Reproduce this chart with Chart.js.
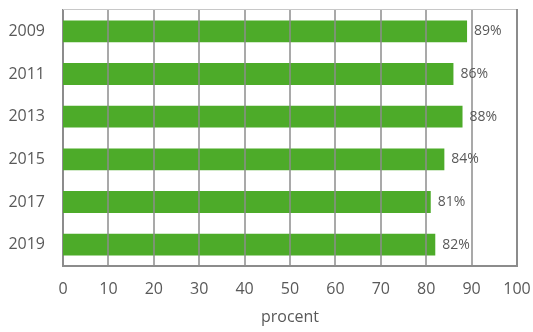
<!DOCTYPE html>
<html>
<head>
<meta charset="utf-8">
<script src="https://cdn.jsdelivr.net/npm/chart.js@4"></script>
<style>
  html, body { margin: 0; padding: 0; background: #fff; }
  #wrap { width: 533px; height: 332px; }
</style>
</head>
<body>
<div id="wrap"><canvas id="chart"></canvas></div>
<script>
const years = ['2009', '2011', '2013', '2015', '2017', '2019'];
const values = [89, 86, 88, 84, 81, 82];
const xTicks = [0, 10, 20, 30, 40, 50, 60, 70, 80, 90, 100];

// light top edge, right edge, gridlines over bars and the % labels
const framePlugin = {
  id: 'frame',
  afterDatasetsDraw(chart) {
    const { ctx, chartArea: a, scales: { x } } = chart;
    ctx.save();
    ctx.strokeStyle = '#8c8c8c';
    ctx.lineWidth = 1.5;
    xTicks.slice(1, -1).forEach(v => {
      const px = Math.round(x.getPixelForValue(v));
      ctx.beginPath();
      ctx.moveTo(px, a.top);
      ctx.lineTo(px, a.bottom);
      ctx.stroke();
    });
    ctx.strokeStyle = '#c8c8c8';
    ctx.lineWidth = 1;
    ctx.beginPath();
    ctx.moveTo(a.left, a.top - 0.5);
    ctx.lineTo(a.right, a.top - 0.5);
    ctx.stroke();
    ctx.strokeStyle = '#8c8c8c';
    ctx.lineWidth = 2;
    ctx.beginPath();
    ctx.moveTo(a.right, a.top - 1);
    ctx.lineTo(a.right, a.bottom);
    ctx.stroke();

    const meta = chart.getDatasetMeta(0);
    ctx.fillStyle = '#595959';
    ctx.font = '14px "Open Sans"';
    ctx.textBaseline = 'middle';
    meta.data.forEach((bar, i) => {
      ctx.fillText(values[i] + '%', bar.x + 7, bar.y);
    });
    ctx.restore();
  }
};

new Chart(document.getElementById('chart'), {
  type: 'bar',
  data: {
    labels: years,
    datasets: [{
      data: values,
      backgroundColor: '#4dab29',
      categoryPercentage: 1,
      barPercentage: 0.51
    }]
  },
  options: {
    indexAxis: 'y',
    responsive: true,
    maintainAspectRatio: false,
    animation: false,
    layout: { padding: { top: 10, right: 16, left: 0, bottom: 4 } },
    plugins: { legend: { display: false }, tooltip: { enabled: false } },
    scales: {
      x: {
        min: 0, max: 100,
        afterBuildTicks: axis => { axis.ticks = xTicks.map(v => ({ value: v })); },
        afterFit: s => { s.height = 62; s.paddingLeft = 0; s.paddingRight = 0; },
        grid: { display: false, drawTicks: false },
        border: { color: '#8c8c8c', width: 2 },
        ticks: { color: '#595959', padding: 14, font: { family: 'Open Sans', size: 16 } },
        title: { display: true, text: 'procent', color: '#595959', padding: { top: 4, bottom: 1 }, font: { family: 'Open Sans', size: 16 } }
      },
      y: {
        afterFit: s => { s.width = 63; s.paddingTop = 0; s.paddingBottom = 0; },
        grid: { display: false, drawTicks: false },
        border: { color: '#8c8c8c', width: 2 },
        ticks: { color: '#595959', padding: 18, font: { family: 'Open Sans', size: 16 } }
      }
    }
  },
  plugins: [framePlugin]
});
</script>
</body>
</html>
